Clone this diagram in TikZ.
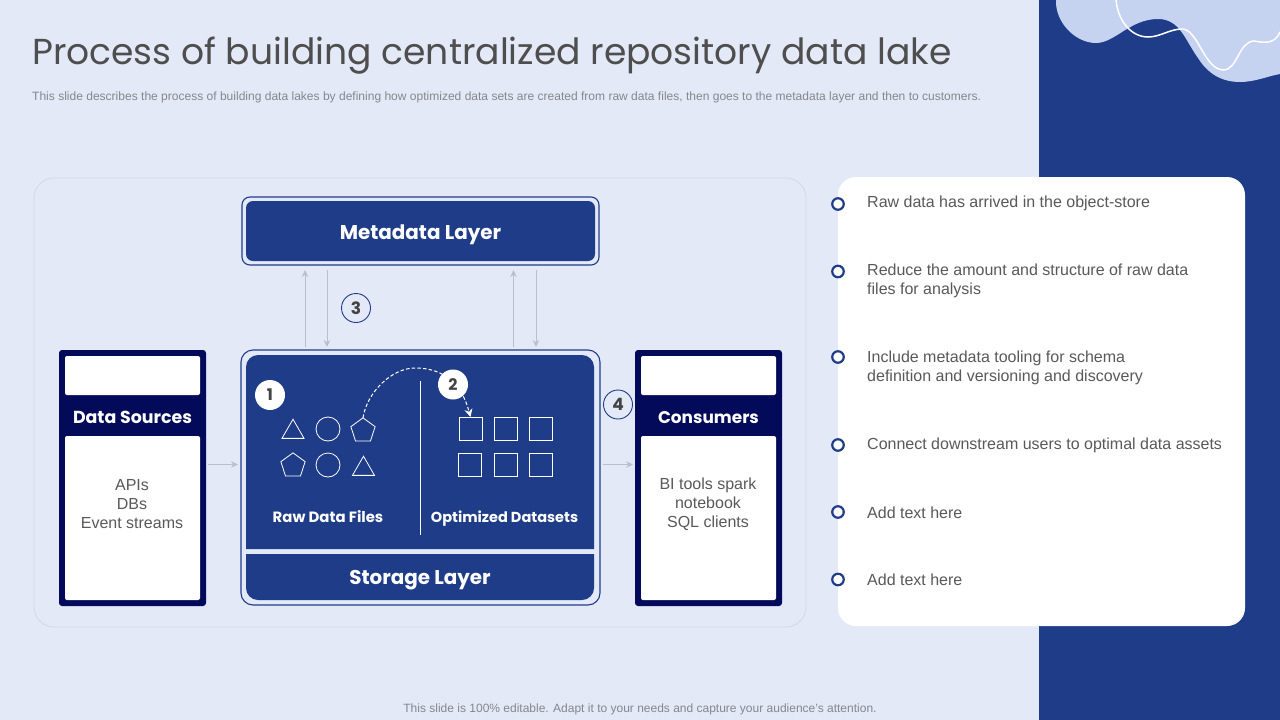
\documentclass[tikz,border=0pt]{standalone}
\usepackage{fontspec}
\setmainfont{Liberation Sans}
\newfontfamily\gothic{Poppins}
\usetikzlibrary{arrows.meta,shapes.geometric}
\definecolor{pagebg}{HTML}{E4E9F8}
\definecolor{royal}{HTML}{1F3C88}
\definecolor{navy}{HTML}{030A5A}
\definecolor{blob}{HTML}{C5D2F0}
\definecolor{body}{HTML}{595959}
\definecolor{panelline}{HTML}{D3D8E6}
\definecolor{conn}{HTML}{BDBFC8}
\tikzset{
  pxbox/.style={rectangle,inner sep=0pt,outer sep=0pt,anchor=north west},
  frame/.style={pxbox,draw=royal,line width=1.1pt,fill=pagebg,rounded corners=8pt},
  royalbox/.style={pxbox,fill=royal,rounded corners=7pt},
  navybox/.style={pxbox,fill=navy,rounded corners=3pt},
  whitebox/.style={pxbox,fill=white,rounded corners=2pt},
  flow/.style={draw=conn,line width=1pt,-{Stealth[length=7pt,width=6.5pt]}},
  outline/.style={draw=white,line width=0.8pt,inner sep=0pt,outer sep=0pt},
  sq/.style={outline,rectangle,minimum size=23pt},
  circ/.style={outline,circle,minimum size=24pt},
  poly/.style={outline,regular polygon,regular polygon sides=#1,minimum size=25.5pt},
  whitelabel/.style={anchor=base,inner sep=0pt,text=white,font=\gothic\bfseries\fontsize{#1}{#1}\selectfont},
  badge/.style={circle,fill=white,minimum size=30pt,inner sep=0pt,text=body!75!black,font=\gothic\bfseries\fontsize{16}{16}\selectfont},
  ringbadge/.style={circle,draw=royal,line width=0.9pt,fill=pagebg,minimum size=29pt,inner sep=0pt,text=body!75!black,font=\gothic\bfseries\fontsize{17}{17}\selectfont},
  bullet/.style={circle,draw=royal,line width=2.2pt,fill=white,minimum size=11.5pt,inner sep=0pt},
  listtext/.style={anchor=west,align=left,inner sep=0pt,text=body,font=\fontsize{16}{19.3}\selectfont},
  celltext/.style={align=center,inner sep=0pt,text=body,font=\fontsize{16}{19}\selectfont}
}
\begin{document}
\begin{tikzpicture}[x=1pt,y=-1pt]
\useasboundingbox (0,0) rectangle (1280,720);
\fill[pagebg] (0,0) rectangle (1280,720);
\fill[royal] (1039,0) rectangle (1280,720);
% decoration
\fill[blob] (1056,0) .. controls (1055,22) and (1075,43) .. (1096,43)
  .. controls (1115,43) and (1130,19) .. (1158,19)
  .. controls (1180,19) and (1185,40) .. (1198,58)
  .. controls (1208,74) and (1222,82) .. (1240,82)
  .. controls (1255,82) and (1268,76) .. (1280,74) -- (1280,0) -- cycle;
\draw[white,line width=1.5pt] (1116,0) .. controls (1118,22) and (1132,37) .. (1148,37)
  .. controls (1160,37) and (1170,29) .. (1182,29)
  .. controls (1198,29) and (1204,69) .. (1223,70)
  .. controls (1238,70) and (1238,42) .. (1254,41)
  .. controls (1265,43) and (1275,44) .. (1280,32);
% heading
\node[anchor=west,inner sep=0pt,text=body!88!black,font=\gothic\fontsize{36.1}{37}\selectfont] (title) at (32,55.5) {Process of building centralized repository data lake};
\node[anchor=west,inner sep=0pt,text=body!68!pagebg,font=\fontsize{12.03}{13}\selectfont] (subtitle) at (32,97) {This slide describes the process of building data lakes by defining how optimized data sets are created from raw data files, then goes to the metadata layer and then to customers.};
\node[inner sep=0pt,text=body!68!pagebg,font=\fontsize{12}{12}\selectfont] (note) at (640,709) {This slide is 100\% editable. Adapt it to your needs and capture your audience's attention.};
% panel and card
\node[pxbox,draw=panelline,line width=0.8pt,rounded corners=20pt,minimum width=772pt,minimum height=449pt] (panel) at (34,178) {};
\node[pxbox,fill=white,rounded corners=18pt,minimum width=407pt,minimum height=449pt] (card) at (838,177) {};
% metadata
\node[frame,minimum width=357pt,minimum height=68pt] (metaframe) at (242,197) {};
\node[royalbox,minimum width=349pt,minimum height=60pt] (meta) at (246,201) {};
\node[whitelabel=19.9] (metalabel) at (420.5,239) {Metadata Layer};
% storage
\node[frame,rounded corners=12pt,minimum width=359pt,minimum height=255pt] (storeframe) at (241,350) {};
\fill[royal] (246,549) -- (246,367) arc[start angle=180,end angle=90,radius=12pt] -- (582,355) arc[start angle=90,end angle=0,radius=12pt] -- (594,549) -- cycle;
\fill[royal] (246,554) -- (594,554) -- (594,588) arc[start angle=0,end angle=-90,radius=12pt] -- (258,600) arc[start angle=-90,end angle=-180,radius=12pt] -- cycle;
\node[whitelabel=19.9] (storage) at (420,584) {Storage Layer};
\node[whitelabel=14.9] (rawlabel) at (328,522) {Raw Data Files};
\node[whitelabel=14.5] (optlabel) at (504.5,522) {Optimized Datasets};
\coordinate (divtop) at (420.5,381);
\coordinate (divbot) at (420.5,535);
\draw[white,line width=1pt] (divtop) -- (divbot);
% data sources
\node[navybox,minimum width=147pt,minimum height=256pt] (srcbox) at (59,350) {};
\node[whitebox,minimum width=135pt,minimum height=39pt] (srctop) at (65,356) {};
\node[whitebox,minimum width=135pt,minimum height=164pt] (srcbot) at (65,436) {};
\node[whitelabel=17.4] (srclabel) at (132.5,423) {Data Sources};
\node[celltext] (srctext) at (132,504) {APIs\\DBs\\Event streams};
% consumers
\node[navybox,minimum width=147pt,minimum height=256pt] (conbox) at (635,350) {};
\node[whitebox,minimum width=135pt,minimum height=39pt] (contop) at (641,356) {};
\node[whitebox,minimum width=135pt,minimum height=164pt] (conbot) at (641,436) {};
\node[whitelabel=16.9] (conlabel) at (708.5,423) {Consumers};
\node[celltext] (context) at (708,504) {BI tools spark\\notebook\\SQL clients};
% shapes
\node[poly=3] (t1) at (293,432) {};
\node[circ] (c1) at (328,429) {};
\node[poly=5] (p1) at (363,430.6) {};
\node[poly=5] (p2) at (293,465.6) {};
\node[circ] (c2) at (328,465) {};
\node[poly=3] (t2) at (363.5,469) {};
\node[sq] (s1) at (470.5,428.5) {};
\node[sq] (s2) at (505.5,428.5) {};
\node[sq] (s3) at (540.5,428.5) {};
\node[sq] (s4) at (470,464.5) {};
\node[sq] (s5) at (505.5,464.5) {};
\node[sq] (s6) at (540.5,464.5) {};
\draw[white,line width=1pt,dash pattern=on 3.5pt off 2.2pt,-{Stealth[length=8pt,width=8pt]}] (p1.north) .. controls (367,392) and (392,368) .. (415,368) .. controls (445,368) and (462,385) .. (s1.north);
% connectors
\coordinate (u1a) at (305,347); \coordinate (u1b) at (305,270);
\coordinate (d1a) at (327,270); \coordinate (d1b) at (327,347);
\coordinate (u2a) at (513.5,347); \coordinate (u2b) at (513.5,270);
\coordinate (d2a) at (536,270); \coordinate (d2b) at (536,347);
\coordinate (l1) at (208,464.5); \coordinate (l2) at (238,464.5);
\coordinate (r1) at (603,464.5); \coordinate (r2) at (633,464.5);
\draw[flow] (u1a) -- (u1b);
\draw[flow] (d1a) -- (d1b);
\draw[flow] (u2a) -- (u2b);
\draw[flow] (d2a) -- (d2b);
\draw[flow] (l1) -- (l2);
\draw[flow] (r1) -- (r2);
% badges
\node[badge] (b1) at (270,395) {1};
\node[badge] (b2) at (453,384.5) {2};
\node[ringbadge] (b3) at (356,308) {3};
\node[ringbadge] (b4) at (618,404.5) {4};
% list
\node[bullet] (i1) at (838,204) {};
\node[bullet] (i2) at (838,271.5) {};
\node[bullet] (i3) at (838,357) {};
\node[bullet] (i4) at (838,445) {};
\node[bullet] (i5) at (838,512) {};
\node[bullet] (i6) at (838,579.5) {};
\node[listtext] (x1) at (867,203.5) {Raw data has arrived in the object-store};
\node[listtext] (x2) at (867,281) {Reduce the amount and structure of raw data\\files for analysis};
\node[listtext] (x3) at (867,368) {Include metadata tooling for schema\\definition and versioning and discovery};
\node[listtext] (x4) at (867,445.5) {Connect downstream users to optimal data assets};
\node[listtext] (x5) at (867,512.5) {Add text here};
\node[listtext] (x6) at (867,580) {Add text here};
\end{tikzpicture}
\end{document}
